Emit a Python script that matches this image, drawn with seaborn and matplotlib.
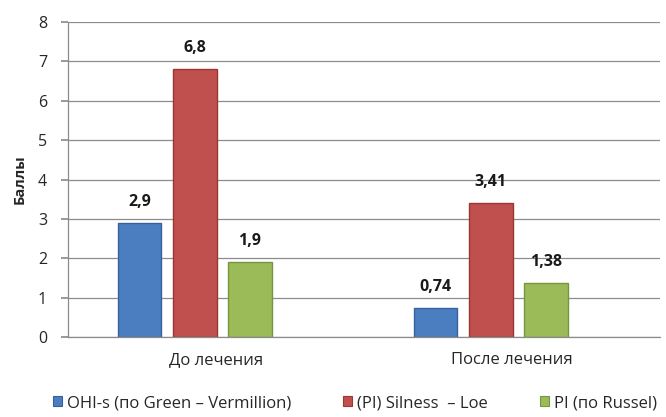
import matplotlib
matplotlib.use("Agg")
import matplotlib.pyplot as plt
import seaborn as sns
import pandas as pd

# Data
periods = ["До лечения", "После лечения"]
indices = ["OHI-s (по Green – Vermillion)", "(PI) Silness  – Loe", "PI (по Russel)"]
ohi_s = [2.9, 0.74]
pi_silness = [6.8, 3.41]
pi_russel = [1.9, 1.38]
value_labels = [["2,9", "0,74"], ["6,8", "3,41"], ["1,9", "1,38"]]
colors = ["#4A7EC1", "#C0504D", "#9BBB59"]
edge_colors = ["#35629C", "#9C3633", "#789440"]

df = pd.DataFrame({
    "period": periods * 3,
    "index": [indices[0]] * 2 + [indices[1]] * 2 + [indices[2]] * 2,
    "value": ohi_s + pi_silness + pi_russel,
})

sns.set_theme(style="white")
plt.rcParams["font.family"] = ["Open Sans", "DejaVu Sans"]

fig = plt.figure(figsize=(6.66, 4.17), dpi=100)
ax = fig.add_axes([68 / 666, 1 - 337 / 417, 592 / 666, 315 / 417])

sns.barplot(data=df, x="period", y="value", hue="index", palette=colors,
            saturation=1, width=0.56, gap=0.0, ax=ax, legend=True)

# bar styling and value labels
group_shift = -0.072
bar_w = 0.148
for i, cont in enumerate(ax.containers):
    for j, bar in enumerate(cont):
        bar.set_edgecolor(edge_colors[i])
        bar.set_linewidth(1.0)
        cx = bar.get_x() + bar.get_width() / 2 + group_shift
        bar.set_x(cx - bar_w / 2)
        bar.set_width(bar_w)
        ax.annotate(value_labels[i][j], (cx, bar.get_height()),
                    xytext=(0, 21), textcoords="offset pixels",
                    ha="center", va="center", fontsize=11.5, fontweight="bold",
                    color="#1a1a1a")

ax.set_ylim(0, 8)
ax.set_xlim(-0.5, 1.5)
ax.set_yticks(range(0, 9))
ax.yaxis.grid(True, color="#8c8c8c", linewidth=0.9)
ax.set_axisbelow(True)
for s in ["top", "right"]:
    ax.spines[s].set_visible(False)
for s in ["left", "bottom"]:
    ax.spines[s].set_color("#8c8c8c")
    ax.spines[s].set_linewidth(0.9)
ax.tick_params(axis="y", left=True, length=5, color="#8c8c8c", labelsize=11.5, pad=10)
ax.tick_params(axis="x", bottom=False, labelsize=12, pad=5)
ax.set_xlabel("")
ax.set_ylabel("Баллы", fontsize=10.5, fontweight="bold", labelpad=8)

leg = ax.legend(loc="center", bbox_to_anchor=(0.485, -0.21), ncol=3,
                frameon=False, fontsize=12, handlelength=0.55, handleheight=0.55,
                handletextpad=0.3, columnspacing=3.1)
for h, ec in zip(leg.legend_handles, edge_colors):
    h.set_edgecolor(ec)
    h.set_linewidth(0.8)

fig.savefig("out.png", dpi=100)
